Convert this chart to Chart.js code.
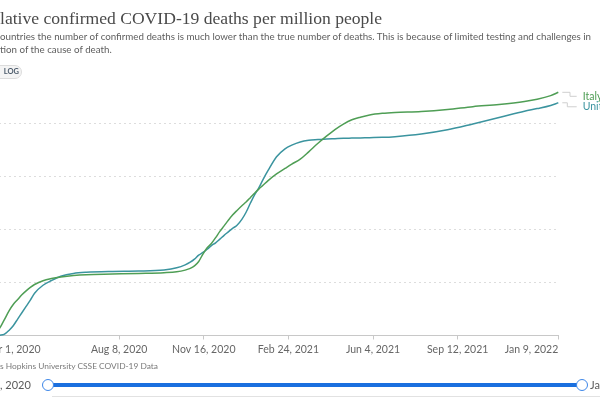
<!DOCTYPE html>
<html>
<head>
<meta charset="utf-8">
<script src="https://cdn.jsdelivr.net/npm/chart.js@4.4.0/dist/chart.umd.min.js"></script>
<style>
  html, body { margin:0; padding:0; width:600px; height:400px; overflow:hidden; background:#fff; }
  body { position:relative; font-family: Lato, "Noto Sans", sans-serif; }
  .abs { position:absolute; white-space:nowrap; }
  #title { top:8px; font-family:"Liberation Serif", serif; font-size:17.6px; color:#4a4a4a; }
  .sub { font-size:9.75px; color:#5e5e5e; }
  #sub1 { top:29.5px; }
  #sub2 { top:42.5px; }
  #logbtn { left:-22px; top:65px; width:40px; height:12px; border:1px solid #dcdcdc; border-radius:7px; background:#f4f4f4;
            font-size:7.5px; font-weight:700; color:#4c5b6b; text-align:right; line-height:12px; padding-right:2px; box-sizing:content-box; }
  #source { top:361px; font-size:8.4px; color:#7a7a7a; }
  #startLbl { top:378px; font-size:11px; color:#5a5a5a; }
  #endLbl { left:590px; top:378px; font-size:11px; color:#5a5a5a; }
  #track { left:48px; top:383px; width:534px; height:4px; background:#1a6fdf; }
  .knob { position:absolute; width:10px; height:10px; border:1.5px solid #3d86e8; border-radius:50%; background:#fff; top:378.5px; }
  #footer { left:52px; top:396px; width:548px; height:1px; background:#e2e2e2; }
  #wrap { position:absolute; left:-40px; top:0; width:640px; height:400px; }
</style>
</head>
<body>
<div id="wrap"><canvas id="chart"></canvas></div>
<div id="title" class="abs"><span class="cut">Cumu</span>lative confirmed COVID-19 deaths per million people</div>
<div id="sub1" class="abs sub"><span class="cut">For some c</span>ountries the number of confirmed deaths is much lower than the true number of deaths. This is because of limited testing and challenges in</div>
<div id="sub2" class="abs sub"><span class="cut">the attribu</span>tion of the cause of death.</div>
<div id="logbtn" class="abs">LOG</div>
<div id="source" class="abs"><span class="cut">Source: John</span>s Hopkins University CSSE COVID-19 Data</div>
<div id="startLbl" class="abs"><span class="cut">Mar 1</span>, 2020</div>
<div id="track" class="abs"></div>
<div class="knob" style="left:42px"></div>
<div class="knob" style="left:576px"></div>
<div id="endLbl" class="abs">Jan 9, 2022</div>
<div id="footer" class="abs"></div>
<script>
// cumulative confirmed deaths per million
const startDate = '2020-03-01';
const dates = [
  '2020-03-01','2020-03-10','2020-03-15','2020-03-20','2020-03-25','2020-03-31',
  '2020-04-05','2020-04-10','2020-04-15','2020-04-20','2020-04-25','2020-04-30',
  '2020-05-10','2020-05-20','2020-05-31','2020-06-15','2020-06-30','2020-07-31',
  '2020-08-31','2020-09-30','2020-10-15','2020-10-25','2020-10-31','2020-11-05',
  '2020-11-10','2020-11-15','2020-11-20','2020-11-25','2020-11-30','2020-12-05',
  '2020-12-10','2020-12-15','2020-12-20','2020-12-25','2020-12-31','2021-01-05',
  '2021-01-10','2021-01-15','2021-01-20','2021-01-25','2021-01-31','2021-02-10',
  '2021-02-20','2021-02-28','2021-03-10','2021-03-20','2021-03-31','2021-04-10',
  '2021-04-20','2021-04-30','2021-05-10','2021-05-20','2021-05-31','2021-06-15',
  '2021-06-30','2021-07-31','2021-08-31','2021-09-30','2021-10-31','2021-11-30',
  '2021-12-15','2021-12-31','2022-01-09'
];
const italy = [
  0.6, 10, 30, 72, 145, 235,
  295, 340, 385, 422, 455, 482,
  518, 538, 553, 567, 575, 581,
  587, 594, 602, 618, 634, 658,
  700, 770, 830, 870, 925, 984,
  1036, 1089, 1138, 1180, 1227, 1262,
  1303, 1345, 1384, 1420, 1464, 1527,
  1579, 1620, 1667, 1736, 1817, 1884,
  1946, 1998, 2039, 2064, 2085, 2100,
  2108, 2117, 2136, 2163, 2184, 2212,
  2233, 2268, 2299
];
const uk = [
  0, 0.1, 0.5, 3, 10, 50,
  95, 155, 215, 275, 335, 400,
  475, 520, 560, 587, 598, 606,
  609, 620, 640, 668, 693, 722,
  760, 785, 815, 850, 876, 911,
  947, 980, 1013, 1040, 1098, 1165,
  1250, 1330, 1395, 1474, 1560, 1690,
  1765, 1800, 1830, 1845, 1852, 1858,
  1861, 1864, 1866, 1868, 1870, 1873,
  1880, 1905, 1945, 2000, 2060, 2120,
  2145, 2175, 2200
];
const seriesNames = ['Italy', 'United Kingdom'];
const seriesColors = ['#4f9e55', '#3b949f'];
const xTickDates = ['2020-03-01','2020-08-08','2020-11-16','2021-02-24','2021-06-04','2021-09-12','2022-01-09'];
const xTickLabels = ['Mar 1, 2020','Aug 8, 2020','Nov 16, 2020','Feb 24, 2021','Jun 4, 2021','Sep 12, 2021','Jan 9, 2022'];
const yTicks = [0, 500, 1000, 1500, 2000];
const yMax = 2300;

function dayOf(s) { return (Date.parse(s) - Date.parse(startDate)) / 86400000; }

// text is cropped on the left like the screenshot
document.querySelectorAll('.abs').forEach(el => {
  const cut = el.querySelector('.cut');
  if (cut) el.style.left = (-cut.getBoundingClientRect().width) + 'px';
});

const endLabels = {
  id: 'endLabels',
  afterDatasetsDraw(chart) {
    const c = chart.ctx;
    c.save();
    c.font = '10.5px Lato';
    c.textBaseline = 'middle';
    chart.data.datasets.forEach((ds, i) => {
      const meta = chart.getDatasetMeta(i);
      const pt = meta.data[meta.data.length - 1];
      const ly = pt.y + 4;
      const bend = i === 0 ? 11.7 : 9;
      c.strokeStyle = '#cfcfcf';
      c.lineWidth = 1;
      c.beginPath();
      c.moveTo(pt.x + 4, pt.y);
      c.lineTo(pt.x + bend, pt.y);
      c.lineTo(pt.x + bend, ly);
      c.lineTo(pt.x + 18.4, ly);
      c.stroke();
      c.fillStyle = ds.borderColor;
      c.fillText(ds.label, pt.x + 24.4, ly);
    });
    c.restore();
  }
};

const ctx = document.getElementById('chart').getContext('2d');
new Chart(ctx, {
  type: 'line',
  data: {
    datasets: [italy, uk].map((vals, i) => ({
      label: seriesNames[i],
      data: dates.map((d, j) => ({ x: dayOf(d), y: vals[j] })),
      borderColor: seriesColors[i],
      borderWidth: 1.5,
      pointRadius: 0,
      cubicInterpolationMode: 'monotone',
      clip: 4
    }))
  },
  options: {
    responsive: true,
    maintainAspectRatio: false,
    animation: false,
    layout: { padding: { left: 23.8, right: 41.7, top: 92.2, bottom: 44.5 } },
    plugins: { legend: { display: false }, tooltip: { enabled: false } },
    scales: {
      x: {
        type: 'linear',
        min: 0,
        max: dayOf('2022-01-09'),
        afterBuildTicks: s => { s.ticks = xTickDates.map(d => ({ value: dayOf(d) })); },
        afterFit: s => { s.height = 20; },
        ticks: {
          align: 'inner', autoSkip: false, maxRotation: 0, padding: 4,
          color: '#666', font: { family: 'Lato', size: 10.5 },
          callback: (v, i) => xTickLabels[i]
        },
        grid: { drawOnChartArea: false, drawTicks: true, tickLength: 4, color: '#c8c8c8' },
        border: { color: '#c8c8c8' }
      },
      y: {
        min: 0,
        max: yMax,
        afterBuildTicks: s => { s.ticks = yTicks.map(v => ({ value: v })); },
        ticks: { display: false },
        grid: { color: '#dddddd', drawTicks: false },
        border: { display: false, dash: [2, 3] }
      }
    }
  },
  plugins: [endLabels]
});
</script>
</body>
</html>
